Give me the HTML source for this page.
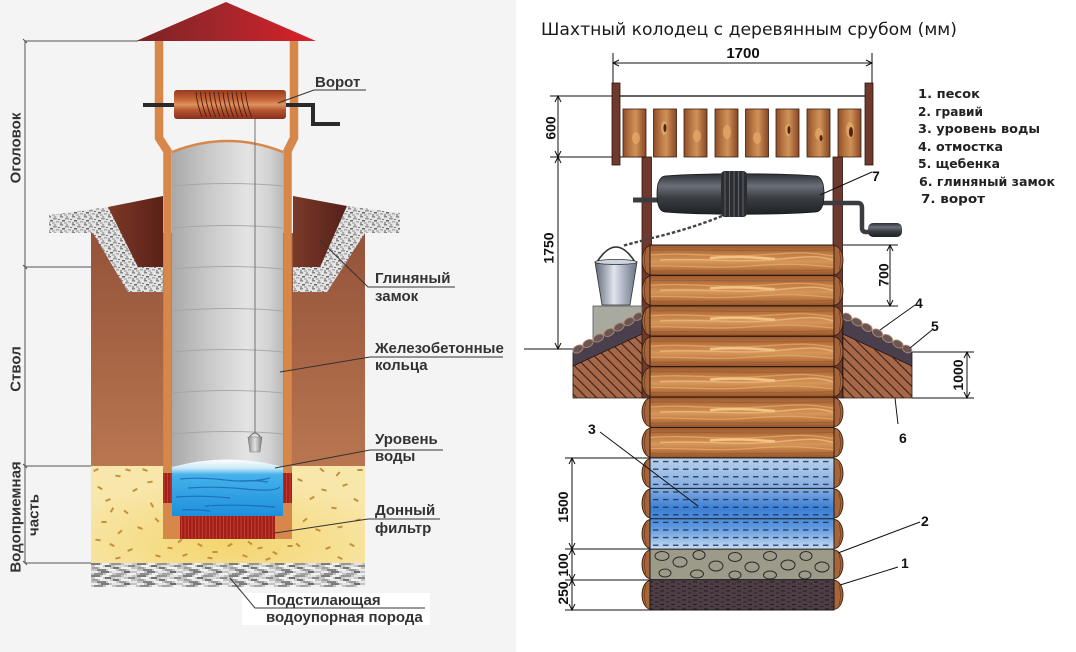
<!DOCTYPE html>
<html><head><meta charset="utf-8">
<style>html,body{margin:0;padding:0;background:#fff}svg{display:block}</style>
</head>
<body>
<svg xmlns="http://www.w3.org/2000/svg" xmlns:xlink="http://www.w3.org/1999/xlink" width="1076" height="652" viewBox="0 0 1076 652">
<defs>
 <linearGradient id="roof" x1="0" x2="1" y1="0" y2="0"><stop offset="0" stop-color="#7b2326"/><stop offset="0.5" stop-color="#a5262b"/><stop offset="1" stop-color="#da2029"/></linearGradient>
 <linearGradient id="soil" x1="0" y1="0" x2="0" y2="1"><stop offset="0" stop-color="#94533a"/><stop offset="1" stop-color="#b97650"/></linearGradient>
 <linearGradient id="clayL" x1="0" x2="1" y1="0" y2="0"><stop offset="0" stop-color="#7c3a28"/><stop offset="1" stop-color="#5a2016"/></linearGradient>
 <linearGradient id="clayR" x1="0" x2="1" y1="0" y2="0"><stop offset="0" stop-color="#7a3a28"/><stop offset="1" stop-color="#55201a"/></linearGradient>
 <linearGradient id="conc" x1="0" x2="1" y1="0" y2="0"><stop offset="0" stop-color="#a9a9a9"/><stop offset="0.3" stop-color="#c6c6c6"/><stop offset="0.68" stop-color="#e4e4e4"/><stop offset="0.88" stop-color="#d2d2d2"/><stop offset="1" stop-color="#b9b9b9"/></linearGradient>
 <linearGradient id="copper" x1="0" y1="0" x2="0" y2="1"><stop offset="0" stop-color="#96381f"/><stop offset="0.35" stop-color="#c9693a"/><stop offset="0.5" stop-color="#dd9560"/><stop offset="0.7" stop-color="#b4552f"/><stop offset="1" stop-color="#88301e"/></linearGradient>
 <linearGradient id="water" x1="0" y1="0" x2="0" y2="1"><stop offset="0" stop-color="#ffffff"/><stop offset="0.15" stop-color="#cdeaf9"/><stop offset="0.27" stop-color="#45b2ea"/><stop offset="1" stop-color="#1e8fdc"/></linearGradient>
 <radialGradient id="sand" cx="0.5" cy="0.8" r="0.65"><stop offset="0" stop-color="#f4d56f"/><stop offset="1" stop-color="#f8e7ab"/></radialGradient>
 <linearGradient id="lbucket" x1="0" x2="1" y1="0" y2="0"><stop offset="0" stop-color="#8a8a8a"/><stop offset="0.5" stop-color="#e2e2e2"/><stop offset="1" stop-color="#7a7a7a"/></linearGradient>
 <pattern id="gravel" patternUnits="userSpaceOnUse" width="12" height="8">
  <rect width="12" height="8" fill="#e4e4e4"/>
  <rect x="0" y="0" width="3" height="1.5" fill="#888"/><rect x="5" y="2" width="4" height="1.5" fill="#9a9a9a"/>
  <rect x="2" y="4" width="3" height="1.5" fill="#666"/><rect x="8" y="5" width="3" height="1.5" fill="#aaa"/>
  <rect x="6" y="0.5" width="2" height="1" fill="#777"/><rect x="0" y="6.2" width="2" height="1.5" fill="#888"/>
  <rect x="10" y="3" width="2" height="1" fill="#777"/><rect x="4" y="6.5" width="3" height="1" fill="#999"/>
 </pattern>
 <pattern id="rock" patternUnits="userSpaceOnUse" x="91" y="563" width="46" height="12">
  <rect width="46" height="12" fill="#c4c4c4"/>
  <rect x="0" y="0" width="9" height="2" fill="#7d7d7d"/><rect x="11" y="0" width="7" height="2" fill="#f0f0f0"/>
  <rect x="20" y="0" width="10" height="2" fill="#959595"/><rect x="33" y="0" width="8" height="2" fill="#e4e4e4"/>
  <rect x="4" y="2" width="8" height="2" fill="#f2f2f2"/><rect x="14" y="2" width="6" height="2" fill="#6f6f6f"/>
  <rect x="24" y="2" width="9" height="2" fill="#dedede"/><rect x="37" y="2" width="7" height="2" fill="#8a8a8a"/>
  <rect x="1" y="4" width="6" height="2" fill="#a0a0a0"/><rect x="9" y="4" width="10" height="2" fill="#ebebeb"/>
  <rect x="22" y="4" width="6" height="2" fill="#777"/><rect x="30" y="4" width="10" height="2" fill="#f4f4f4"/>
  <rect x="6" y="6" width="9" height="2" fill="#858585"/><rect x="17" y="6" width="8" height="2" fill="#f0f0f0"/>
  <rect x="28" y="6" width="7" height="2" fill="#9a9a9a"/><rect x="38" y="6" width="8" height="2" fill="#e8e8e8"/>
  <rect x="0" y="8" width="7" height="2" fill="#ededed"/><rect x="10" y="8" width="8" height="2" fill="#7a7a7a"/>
  <rect x="21" y="8" width="9" height="2" fill="#e6e6e6"/><rect x="33" y="8" width="6" height="2" fill="#6c6c6c"/>
  <rect x="3" y="10" width="9" height="2" fill="#8e8e8e"/><rect x="15" y="10" width="6" height="2" fill="#f2f2f2"/>
  <rect x="25" y="10" width="8" height="2" fill="#a5a5a5"/><rect x="36" y="10" width="9" height="2" fill="#f0f0f0"/>
 </pattern>
 <pattern id="redst" patternUnits="userSpaceOnUse" width="3.5" height="10">
  <rect width="3.5" height="10" fill="#a51f19"/><rect x="2.6" width="0.8" height="10" fill="#c8453a"/>
 </pattern>
 <rect id="sp" x="-2.6" y="-1" width="5.2" height="2" fill="#c2903d"/>

 <linearGradient id="logw" x1="0" y1="0" x2="0" y2="1"><stop offset="0" stop-color="#9a5a30"/><stop offset="0.3" stop-color="#c07c45"/><stop offset="0.55" stop-color="#d6975a"/><stop offset="0.8" stop-color="#b8733f"/><stop offset="1" stop-color="#935429"/></linearGradient>
 <pattern id="grain" patternUnits="userSpaceOnUse" x="650" y="245" width="183" height="30.4167">
  <path d="M0,5 C50,4 100,7 183,5" stroke="#8a4a25" stroke-width="0.8" fill="none" opacity=".6"/>
  <path d="M0,10 C40,7 70,13 110,10 S160,7 183,11" stroke="#e6a765" stroke-width="1.3" fill="none" opacity=".85"/>
  <path d="M10,15 C50,13 90,18 130,14 S170,12 183,15" stroke="#efba7a" stroke-width="1.4" fill="none" opacity=".85"/>
  <path d="M60,13 C80,11 100,12 125,14" stroke="#f4c486" stroke-width="2.5" fill="none"/>
  <path d="M0,21 C30,20 60,24 100,21 S150,19 183,22" stroke="#e8ac6a" stroke-width="1.2" fill="none" opacity=".8"/>
  <path d="M0,26 C60,25 120,27 183,25" stroke="#8a4a25" stroke-width="0.8" fill="none" opacity=".5"/>
 </pattern>
 <linearGradient id="plank" x1="0" x2="1" y1="0" y2="0"><stop offset="0" stop-color="#8d4e2b"/><stop offset="0.3" stop-color="#b87642"/><stop offset="0.55" stop-color="#cf9258"/><stop offset="0.8" stop-color="#a9673a"/><stop offset="1" stop-color="#854827"/></linearGradient>
 <linearGradient id="drum" x1="0" y1="0" x2="0" y2="1"><stop offset="0" stop-color="#2c2e33"/><stop offset="0.3" stop-color="#6a6f77"/><stop offset="0.6" stop-color="#3a3d43"/><stop offset="1" stop-color="#1f2124"/></linearGradient>
 <linearGradient id="bucket" x1="0" x2="1" y1="0" y2="0"><stop offset="0" stop-color="#5f6778"/><stop offset="0.45" stop-color="#dfe4ec"/><stop offset="0.7" stop-color="#a9b0bf"/><stop offset="1" stop-color="#6a7282"/></linearGradient>
 <linearGradient id="wat2" x1="0" y1="0" x2="0" y2="1"><stop offset="0" stop-color="#b9d1eb"/><stop offset="0.33" stop-color="#85ade0"/><stop offset="0.55" stop-color="#3d7fd4"/><stop offset="0.75" stop-color="#5a96dc"/><stop offset="1" stop-color="#c6dbf1"/></linearGradient>
 <pattern id="wdash" patternUnits="userSpaceOnUse" x="652" y="458" width="10" height="7.6">
  <rect x="1" y="3" width="5.5" height="1.2" fill="#1d3460"/>
 </pattern>
 <pattern id="sdash" patternUnits="userSpaceOnUse" width="11" height="4.5">
  <rect width="11" height="4.5" fill="#4d3d45"/>
  <rect x="0" y="1" width="4" height="0.9" fill="#1f171b"/><rect x="6" y="3" width="3.5" height="0.9" fill="#2a2024"/>
 </pattern>
 <pattern id="hatch" patternUnits="userSpaceOnUse" width="7" height="7" patternTransform="rotate(-45)">
  <rect width="7" height="7" fill="#a7684a"/><rect x="0" y="0" width="1.1" height="7" fill="#3a2016"/>
 </pattern>
</defs>

<rect x="0" y="0" width="1076" height="652" fill="#ffffff"/>
<rect x="0" y="0" width="516" height="652" fill="#f4f4f4"/>

<!-- ============ LEFT DRAWING ============ -->
<g stroke="#555" stroke-width="1" fill="none">
 <path d="M25,41 V563"/>
 <path d="M25,41 H138"/>
 <path d="M25,267 H140"/>
 <path d="M25,466 H91"/>
 <path d="M25,563 H91"/>
 <path d="M23,39 L27,43 M23,265 L27,269 M23,464 L27,468 M23,561 L27,565"/>
</g>

<polygon points="226,2 316,41 136,41" fill="url(#roof)"/>

<rect x="91" y="233" width="274" height="233" fill="url(#soil)"/>
<polygon points="49,215 108,207 138,267 163,267 163,292 128,292 93,233 49,233" fill="url(#gravel)"/>
<polygon points="347,206 400,213 400,233 365,233 327,292 293,292 293,267 320,267" fill="url(#gravel)"/>
<polygon points="108,207 163,196 163,267 138,267" fill="url(#clayL)"/>
<polygon points="293,196 347,206 320,267 293,267" fill="url(#clayR)"/>

<rect x="91" y="466" width="274" height="97" fill="url(#sand)"/>
<g>
 <use xlink:href="#sp" transform="translate(100,488) rotate(30)"/><use xlink:href="#sp" transform="translate(108,500) rotate(-20)"/>
 <use xlink:href="#sp" transform="translate(118,476) rotate(10)"/><use xlink:href="#sp" transform="translate(126,512) rotate(40)"/>
 <use xlink:href="#sp" transform="translate(135,490) rotate(-30)"/><use xlink:href="#sp" transform="translate(145,470) rotate(20)"/>
 <use xlink:href="#sp" transform="translate(152,505) rotate(60)"/><use xlink:href="#sp" transform="translate(104,522) rotate(0)"/>
 <use xlink:href="#sp" transform="translate(120,532) rotate(-40)"/><use xlink:href="#sp" transform="translate(140,528) rotate(20)"/>
 <use xlink:href="#sp" transform="translate(150,482) rotate(-10)"/><use xlink:href="#sp" transform="translate(112,545) rotate(30)"/>
 <use xlink:href="#sp" transform="translate(130,550) rotate(-20)"/><use xlink:href="#sp" transform="translate(98,540) rotate(10)"/>
 <use xlink:href="#sp" transform="translate(157,520) rotate(45)"/><use xlink:href="#sp" transform="translate(96,470) rotate(-25)"/>
 <use xlink:href="#sp" transform="translate(128,470) rotate(15)"/><use xlink:href="#sp" transform="translate(112,510) rotate(-60)"/>
 <use xlink:href="#sp" transform="translate(300,480) rotate(20)"/><use xlink:href="#sp" transform="translate(312,498) rotate(-30)"/>
 <use xlink:href="#sp" transform="translate(322,470) rotate(40)"/><use xlink:href="#sp" transform="translate(334,508) rotate(10)"/>
 <use xlink:href="#sp" transform="translate(345,485) rotate(-20)"/><use xlink:href="#sp" transform="translate(356,500) rotate(30)"/>
 <use xlink:href="#sp" transform="translate(305,520) rotate(-40)"/><use xlink:href="#sp" transform="translate(318,530) rotate(20)"/>
 <use xlink:href="#sp" transform="translate(340,527) rotate(-10)"/><use xlink:href="#sp" transform="translate(352,545) rotate(30)"/>
 <use xlink:href="#sp" transform="translate(360,470) rotate(0)"/><use xlink:href="#sp" transform="translate(328,548) rotate(-20)"/>
 <use xlink:href="#sp" transform="translate(298,545) rotate(40)"/><use xlink:href="#sp" transform="translate(338,474) rotate(-50)"/>
 <use xlink:href="#sp" transform="translate(324,490) rotate(15)"/><use xlink:href="#sp" transform="translate(358,520) rotate(-15)"/>
 <use xlink:href="#sp" transform="translate(170,548) rotate(10)"/><use xlink:href="#sp" transform="translate(185,555) rotate(-20)"/>
 <use xlink:href="#sp" transform="translate(200,545) rotate(30)"/><use xlink:href="#sp" transform="translate(215,552) rotate(0)"/>
 <use xlink:href="#sp" transform="translate(230,545) rotate(-30)"/><use xlink:href="#sp" transform="translate(245,556) rotate(20)"/>
 <use xlink:href="#sp" transform="translate(260,548) rotate(-10)"/><use xlink:href="#sp" transform="translate(275,553) rotate(30)"/>
 <use xlink:href="#sp" transform="translate(290,546) rotate(0)"/><use xlink:href="#sp" transform="translate(180,541) rotate(-40)"/>
 <use xlink:href="#sp" transform="translate(210,558) rotate(10)"/><use xlink:href="#sp" transform="translate(250,543) rotate(40)"/>
 <use xlink:href="#sp" transform="translate(268,559) rotate(-20)"/><use xlink:href="#sp" transform="translate(158,556) rotate(15)"/>
 <use xlink:href="#sp" transform="translate(118,558) rotate(-15)"/><use xlink:href="#sp" transform="translate(340,558) rotate(25)"/>
</g>
<rect x="91" y="563" width="274" height="24" fill="url(#rock)"/>
<rect x="242" y="593" width="188" height="32" fill="#ffffff"/>

<rect x="163" y="467" width="129" height="72" fill="#d8874a"/>
<path d="M159,41 L159,138 L167.5,151 L167.5,539" stroke="#d8874a" stroke-width="8.5" fill="none"/>
<path d="M294,41 L294,138 L287.5,151 L287.5,539" stroke="#d8874a" stroke-width="8.5" fill="none"/>

<path d="M172,152 Q227.5,130 283,152 L283,470 L172,470 Z" fill="url(#conc)"/>
<path d="M172,152 Q227.5,130 283,152" stroke="#d8874a" stroke-width="2.5" fill="none"/>
<g stroke="#a2a2a2" stroke-width="1" fill="none" opacity="0.85">
 <path d="M173,186 Q228,181 283,186"/><path d="M173,228 Q228,223 283,228"/>
 <path d="M173,269 Q228,264 283,269"/><path d="M173,311 Q228,306 283,311"/>
 <path d="M173,352 Q228,347 283,352"/><path d="M173,393 Q228,388 283,393"/>
 <path d="M173,434 Q228,429 283,434"/>
</g>

<line x1="255" y1="119" x2="255" y2="433" stroke="#747474" stroke-width="1"/>
<path d="M249,438 Q255,428 261,438" stroke="#666" stroke-width="1" fill="none"/>
<path d="M248,437 L262,437 L260,452 L250,452 Z" fill="url(#lbucket)" stroke="#777" stroke-width="0.6"/>

<path d="M172,467 Q227.5,452 283,467 L283,516 L172,516 Z" fill="url(#water)"/>
<g stroke="#1766b0" stroke-width="1.2" fill="none" opacity="0.8">
 <path d="M180,479 Q200,477 225,480 T270,478"/><path d="M188,488 Q215,486 245,489 T280,487"/>
 <path d="M176,497 Q200,495 230,498"/><path d="M205,506 Q235,504 275,507"/>
 <path d="M240,481 Q255,480 268,482"/><path d="M182,510 Q195,509 210,511"/>
</g>
<rect x="163" y="473" width="9" height="30" fill="url(#redst)"/>
<rect x="283" y="473" width="9" height="30" fill="url(#redst)"/>
<rect x="180" y="516" width="95" height="23" fill="url(#redst)"/>

<path d="M143,105 H286 M286,105 H313 V124 H340" stroke="#2a2a2a" stroke-width="4" fill="none" stroke-linejoin="miter"/>
<rect x="174" y="90" width="112" height="29" rx="3" fill="url(#copper)"/>
<g stroke="#4a1a10" stroke-width="0.9" fill="none">
 <path d="M196,92 Q197,104 202,117"/><path d="M200.5,92 Q201.5,104 206.5,117"/><path d="M205,92 Q206,104 211,117"/>
 <path d="M209.5,92 Q210.5,104 215.5,117"/><path d="M214,92 Q215,104 220,117"/><path d="M218.5,92 Q219.5,104 224.5,117"/>
 <path d="M223,92 Q224,104 229,117"/><path d="M227.5,92 Q228.5,104 233.5,117"/><path d="M232,92 Q233,104 238,117"/>
 <path d="M236.5,92 Q237.5,104 242.5,117"/><path d="M241,92 Q242,104 247,117"/><path d="M245.5,92 Q246.5,104 251.5,117"/>
</g>

<g stroke="#333" stroke-width="1" fill="none">
 <path d="M278,103 L314,90 H366"/>
 <path d="M320,240 L368,287 H455"/>
 <path d="M280,372 L370,357 H503"/>
 <path d="M275,468 L370,450 H443"/>
 <path d="M275,533 L368,519 H440"/>
 <path d="M230,578 L255,608 H425"/>
</g>
<g font-family="'Liberation Sans', Arial, sans-serif" font-weight="bold" font-size="15" fill="#333">
 <text x="315" y="87">Ворот</text>
 <text x="375" y="283">Глиняный</text>
 <text x="375" y="301">замок</text>
 <text x="375" y="353">Железобетонные</text>
 <text x="375" y="370">кольца</text>
 <text x="375" y="444">Уровень</text>
 <text x="375" y="461">воды</text>
 <text x="375" y="515">Донный</text>
 <text x="375" y="533">фильтр</text>
 <text x="266" y="605">Подстилающая</text>
 <text x="266" y="622">водоупорная порода</text>
 <text transform="translate(20.5,148) rotate(-90)" text-anchor="middle">Оголовок</text>
 <text transform="translate(20.5,369) rotate(-90)" text-anchor="middle">Ствол</text>
 <text transform="translate(20.5,517) rotate(-90)" text-anchor="middle">Водоприемная</text>
 <text transform="translate(38.5,515) rotate(-90)" text-anchor="middle">часть</text>
</g>

<!-- ============ RIGHT DRAWING ============ -->
<text x="541" y="35" font-family="'DejaVu Sans', sans-serif" font-size="16.5" textLength="416" lengthAdjust="spacingAndGlyphs" fill="#1a1a1a">Шахтный колодец с деревянным срубом (мм)</text>

<g stroke="#111" stroke-width="1" fill="none">
 <path d="M613,63 H872 M613,53 V84 M872,53 V84"/>
 <path d="M619,60 L613,63 L619,66 M866,60 L872,63 L866,66"/>
 <path d="M550,96 H612 M550,157 H642 M558,96 V349 M524,349 H573"/>
 <path d="M555,102 L558,96 L561,102 M555,151 L558,157 L561,151 M555,163 L558,157 L561,163 M555,343 L558,349 L561,343"/>
 <path d="M843,245 H898 M843,306 H898 M890,245 V306"/>
 <path d="M887,251 L890,245 L893,251 M887,300 L890,306 L893,300"/>
 <path d="M912,352 H974 M912,398 H974 M967,352 V398"/>
 <path d="M964,358 L967,352 L970,358 M964,392 L967,398 L970,392"/>
 <path d="M565,458 H650 M565,549 H650 M565,580 H650 M565,610 H650 M572,458 V610"/>
 <path d="M569,464 L572,458 L575,464 M569,543 L572,549 L575,543 M569,555 L572,549 L575,555 M569,574 L572,580 L575,574 M569,586 L572,580 L575,586 M569,604 L572,610 L575,604"/>
</g>
<g font-family="'Liberation Sans', Arial, sans-serif" font-weight="bold" fill="#111">
 <text x="743" y="58" font-size="15" text-anchor="middle">1700</text>
 <text transform="translate(555.5,128) rotate(-90)" font-size="14" text-anchor="middle">600</text>
 <text transform="translate(553.5,248) rotate(-90)" font-size="14" text-anchor="middle">1750</text>
 <text transform="translate(888.5,275) rotate(-90)" font-size="14" text-anchor="middle">700</text>
 <text transform="translate(963,375) rotate(-90)" font-size="14" text-anchor="middle">1000</text>
 <text transform="translate(568,507) rotate(-90)" font-size="14" text-anchor="middle">1500</text>
 <text transform="translate(568,565) rotate(-90)" font-size="14" text-anchor="middle">100</text>
 <text transform="translate(568,593) rotate(-90)" font-size="14" text-anchor="middle">250</text>
 <text x="588" y="434" font-size="14">3</text>
 <text x="921" y="526" font-size="14">2</text>
 <text x="901" y="568" font-size="14">1</text>
 <text x="899" y="443" font-size="14">6</text>
 <text x="915" y="308" font-size="14">4</text>
 <text x="931" y="331" font-size="14">5</text>
 <text x="872" y="181" font-size="14">7</text>
</g>

<line x1="620" y1="96" x2="865" y2="96" stroke="#333" stroke-width="1.6"/>
<rect x="612" y="83" width="8" height="82" fill="#6f3a2d" stroke="#2b1510" stroke-width="0.8"/>
<rect x="865" y="83" width="8" height="82" fill="#6f3a2d" stroke="#2b1510" stroke-width="0.8"/>
<g stroke="#3b2010" stroke-width="0.8">
 <rect x="623" y="109" width="23" height="48" fill="url(#plank)"/>
 <rect x="653.5" y="109" width="23" height="48" fill="url(#plank)"/>
 <rect x="684" y="109" width="23" height="48" fill="url(#plank)"/>
 <rect x="715" y="109" width="23" height="48" fill="url(#plank)"/>
 <rect x="745.5" y="109" width="23" height="48" fill="url(#plank)"/>
 <rect x="776" y="109" width="23" height="48" fill="url(#plank)"/>
 <rect x="807" y="109" width="23" height="48" fill="url(#plank)"/>
 <rect x="838" y="109" width="23" height="48" fill="url(#plank)"/>
</g>
<g fill="#e3a868" opacity="0.8">
 <ellipse cx="636" cy="138" rx="4" ry="6"/><ellipse cx="664" cy="128" rx="3" ry="7"/><ellipse cx="697" cy="136" rx="4" ry="6"/>
 <ellipse cx="727" cy="132" rx="4" ry="7"/><ellipse cx="757" cy="138" rx="4" ry="6"/><ellipse cx="788" cy="130" rx="3" ry="6"/>
 <ellipse cx="819" cy="134" rx="4" ry="6"/><ellipse cx="850" cy="130" rx="4" ry="8"/>
</g>
<g fill="#4a2612">
 <ellipse cx="665" cy="128" rx="1.5" ry="4"/><ellipse cx="789" cy="130" rx="1.5" ry="4"/><ellipse cx="821" cy="138" rx="1.5" ry="3"/><ellipse cx="851" cy="132" rx="2" ry="5"/>
</g>

<rect x="642" y="157" width="9.5" height="241" fill="#6f3a2d" stroke="#2b1510" stroke-width="0.8"/>
<rect x="833" y="157" width="9.5" height="241" fill="#6f3a2d" stroke="#2b1510" stroke-width="0.8"/>

<rect x="633" y="197.5" width="27" height="5" fill="#3a3c40"/>
<path d="M822,203 L858,203 Q862,203 862,208 L862,228 Q862,232 866,232 L872,232" stroke="#3a3c40" stroke-width="4.5" fill="none"/>
<rect x="868" y="223" width="34" height="14" rx="5" fill="url(#drum)"/>
<path d="M665,176 C700,173 780,173 816,176 Q824,177 824,194 Q824,211 816,212 C780,215 700,215 665,212 Q657,211 657,194 Q657,177 665,176 Z" fill="url(#drum)" stroke="#1a1a1a" stroke-width="0.8"/>
<rect x="721" y="171" width="26" height="46" rx="4" fill="#2b2d31"/>
<g stroke="#60646c" stroke-width="1"><path d="M725,172 V216 M729.5,171 V217 M734,171 V217 M738.5,171 V217 M743,172 V216"/></g>
<path d="M722,216 Q690,229 652,238 L622,246" stroke="#444" stroke-width="2.4" stroke-dasharray="3.5 2" fill="none"/>

<rect x="593" y="306" width="49" height="42" fill="#a9aa9f" stroke="#555" stroke-width="0.8"/>
<path d="M597,262 Q616,232 635,262" stroke="#333" stroke-width="1.6" fill="none"/>
<path d="M595,262 L637,262 L630,305 L602,305 Z" fill="url(#bucket)" stroke="#333" stroke-width="0.8"/>
<ellipse cx="616" cy="262" rx="21" ry="2.5" fill="#cfd5de" stroke="#333" stroke-width="0.8"/>

<path d="M573,366 L642,334 L642,398 L573,398 Z" fill="url(#hatch)" stroke="#2a1a14" stroke-width="0.8"/>
<path d="M573,352 L642,316 L642,334 L573,366 Z" fill="#4a3f4c" stroke="#2a1a14" stroke-width="0.8"/>
<path d="M843,334 L912,366 L912,398 L843,398 Z" fill="url(#hatch)" stroke="#2a1a14" stroke-width="0.8"/>
<path d="M843,316 L912,352 L912,366 L843,334 Z" fill="#4a3f4c" stroke="#2a1a14" stroke-width="0.8"/>
<g fill="#6a5555" stroke="#b08a70" stroke-width="0.9">
 <ellipse cx="578" cy="349" rx="5.5" ry="3.5" transform="rotate(-28 578 349)"/>
 <ellipse cx="588" cy="343.5" rx="5.5" ry="3.5" transform="rotate(-28 588 343.5)"/>
 <ellipse cx="598.5" cy="338" rx="5.5" ry="3.5" transform="rotate(-28 598.5 338)"/>
 <ellipse cx="609" cy="332.5" rx="5.5" ry="3.5" transform="rotate(-28 609 332.5)"/>
 <ellipse cx="619" cy="327" rx="5.5" ry="3.5" transform="rotate(-28 619 327)"/>
 <ellipse cx="629" cy="321.5" rx="5.5" ry="3.5" transform="rotate(-28 629 321.5)"/>
 <ellipse cx="638" cy="316.5" rx="5" ry="3.5" transform="rotate(-28 638 316.5)"/>
 <ellipse cx="847" cy="317" rx="5" ry="3.5" transform="rotate(28 847 317)"/>
 <ellipse cx="857" cy="322" rx="5.5" ry="3.5" transform="rotate(28 857 322)"/>
 <ellipse cx="867" cy="327.5" rx="5.5" ry="3.5" transform="rotate(28 867 327.5)"/>
 <ellipse cx="877.5" cy="333" rx="5.5" ry="3.5" transform="rotate(28 877.5 333)"/>
 <ellipse cx="887.5" cy="338.5" rx="5.5" ry="3.5" transform="rotate(28 887.5 338.5)"/>
 <ellipse cx="898" cy="344" rx="5.5" ry="3.5" transform="rotate(28 898 344)"/>
 <ellipse cx="907" cy="349" rx="5" ry="3.5" transform="rotate(28 907 349)"/>
</g>

<g fill="#a8653a" stroke="#3a2010" stroke-width="0.9">
 <ellipse cx="651" cy="260.2" rx="9" ry="14.5"/><ellipse cx="834" cy="260.2" rx="9" ry="14.5"/>
 <ellipse cx="651" cy="290.6" rx="9" ry="14.5"/><ellipse cx="834" cy="290.6" rx="9" ry="14.5"/>
 <ellipse cx="651" cy="321" rx="9" ry="14.5"/><ellipse cx="834" cy="321" rx="9" ry="14.5"/>
 <ellipse cx="651" cy="351.5" rx="9" ry="14.5"/><ellipse cx="834" cy="351.5" rx="9" ry="14.5"/>
 <ellipse cx="651" cy="381.9" rx="9" ry="14.5"/><ellipse cx="834" cy="381.9" rx="9" ry="14.5"/>
 <ellipse cx="651" cy="412.3" rx="9" ry="14.5"/><ellipse cx="834" cy="412.3" rx="9" ry="14.5"/>
 <ellipse cx="651" cy="442.7" rx="9" ry="14.5"/><ellipse cx="834" cy="442.7" rx="9" ry="14.5"/>
 <ellipse cx="651" cy="473.1" rx="9" ry="14.5"/><ellipse cx="834" cy="473.1" rx="9" ry="14.5"/>
 <ellipse cx="651" cy="503.5" rx="9" ry="14.5"/><ellipse cx="834" cy="503.5" rx="9" ry="14.5"/>
 <ellipse cx="651" cy="534" rx="9" ry="14.5"/><ellipse cx="834" cy="534" rx="9" ry="14.5"/>
 <ellipse cx="651" cy="564.4" rx="9" ry="14.5"/><ellipse cx="834" cy="564.4" rx="9" ry="14.5"/>
 <ellipse cx="651" cy="594.8" rx="9" ry="14.5"/><ellipse cx="834" cy="594.8" rx="9" ry="14.5"/>
</g>
<g fill="none" stroke="#5a3018" stroke-width="0.7" opacity="0.8">
 <path d="M646,250 Q643,260.2 646,270 M646,280.4 Q643,290.6 646,300.8 M646,310.8 Q643,321 646,331.2 M646,341.3 Q643,351.5 646,361.7 M646,371.7 Q643,381.9 646,392.1 M646,402.1 Q643,412.3 646,422.5 M646,432.5 Q643,442.7 646,452.9 M646,462.9 Q643,473.1 646,483.3 M646,493.3 Q643,503.5 646,513.7 M646,523.8 Q643,534 646,544.2 M646,554.2 Q643,564.4 646,574.6 M646,584.6 Q643,594.8 646,605"/>
 <path d="M839,250 Q842,260.2 839,270 M839,280.4 Q842,290.6 839,300.8 M839,310.8 Q842,321 839,331.2 M839,341.3 Q842,351.5 839,361.7 M839,371.7 Q842,381.9 839,392.1 M839,402.1 Q842,412.3 839,422.5 M839,432.5 Q842,442.7 839,452.9 M839,462.9 Q842,473.1 839,483.3 M839,493.3 Q842,503.5 839,513.7 M839,523.8 Q842,534 839,544.2 M839,554.2 Q842,564.4 839,574.6 M839,584.6 Q842,594.8 839,605"/>
</g>

<g stroke="#2e1a0e" stroke-width="1">
 <rect x="650" y="245" width="184" height="30.42" fill="url(#logw)"/>
 <rect x="650" y="275.42" width="184" height="30.42" fill="url(#logw)"/>
 <rect x="650" y="305.83" width="184" height="30.42" fill="url(#logw)"/>
 <rect x="650" y="336.25" width="184" height="30.42" fill="url(#logw)"/>
 <rect x="650" y="366.67" width="184" height="30.42" fill="url(#logw)"/>
 <rect x="650" y="397.08" width="184" height="30.42" fill="url(#logw)"/>
 <rect x="650" y="427.5" width="184" height="30.42" fill="url(#logw)"/>
</g>
<rect x="650.5" y="245.5" width="183" height="212" fill="url(#grain)"/>
<g stroke="#2e1a0e" stroke-width="1" fill="none">
 <path d="M650,275.42 H834 M650,305.83 H834 M650,336.25 H834 M650,366.67 H834 M650,397.08 H834 M650,427.5 H834"/>
</g>
<rect x="650" y="457.92" width="184" height="91.25" fill="url(#wat2)"/>
<rect x="652" y="458" width="180" height="91" fill="url(#wdash)"/>
<rect x="650" y="549.17" width="184" height="30.42" fill="#9c9a89"/>
<g fill="none" stroke="#2a2a2a" stroke-width="1">
 <ellipse cx="662" cy="556" rx="7" ry="4.5"/><ellipse cx="680" cy="562" rx="7" ry="5"/><ellipse cx="699" cy="555" rx="6" ry="4.5"/>
 <ellipse cx="716" cy="566" rx="7" ry="5"/><ellipse cx="735" cy="557" rx="6.5" ry="4.5"/><ellipse cx="752" cy="567" rx="7" ry="5"/>
 <ellipse cx="770" cy="556" rx="6.5" ry="4.5"/><ellipse cx="788" cy="565" rx="7" ry="5"/><ellipse cx="806" cy="556" rx="6" ry="4.5"/>
 <ellipse cx="822" cy="567" rx="7" ry="5"/><ellipse cx="665" cy="573" rx="6" ry="4"/><ellipse cx="697" cy="574" rx="6.5" ry="4"/>
 <ellipse cx="735" cy="575" rx="6" ry="4"/><ellipse cx="770" cy="575" rx="6.5" ry="4"/><ellipse cx="805" cy="575" rx="6" ry="4"/>
</g>
<rect x="650" y="579.58" width="184" height="30.42" fill="url(#sdash)"/>
<g stroke="#1a1a1a" stroke-width="1" fill="none">
 <rect x="650" y="457.92" width="184" height="152.08"/>
 <path d="M650,488.33 H834 M650,518.75 H834 M650,549.17 H834 M650,579.58 H834"/>
</g>

<g stroke="#111" stroke-width="1" fill="none">
 <path d="M600,432 L698,506"/>
 <path d="M920,522 L838,553"/>
 <path d="M898,567 L840,585"/>
 <path d="M898,424 L895,398"/>
 <path d="M915,305 L880,330"/>
 <path d="M932,330 L910,348"/>
 <path d="M872,172 L820,195"/>
</g>

<g font-family="'DejaVu Sans', sans-serif" font-weight="bold" font-size="12" fill="#222">
 <text x="918" y="98" textLength="62" lengthAdjust="spacingAndGlyphs">1. песок</text>
 <text x="918" y="116" textLength="65" lengthAdjust="spacingAndGlyphs">2. гравий</text>
 <text x="918" y="133" textLength="122" lengthAdjust="spacingAndGlyphs">3. уровень воды</text>
 <text x="918" y="151" textLength="85" lengthAdjust="spacingAndGlyphs">4. отмостка</text>
 <text x="918" y="168" textLength="82" lengthAdjust="spacingAndGlyphs">5. щебенка</text>
 <text x="919" y="186" textLength="136" lengthAdjust="spacingAndGlyphs">6. глиняный замок</text>
 <text x="921" y="203" textLength="64" lengthAdjust="spacingAndGlyphs">7.  ворот</text>
</g>
</svg>
</body></html>
